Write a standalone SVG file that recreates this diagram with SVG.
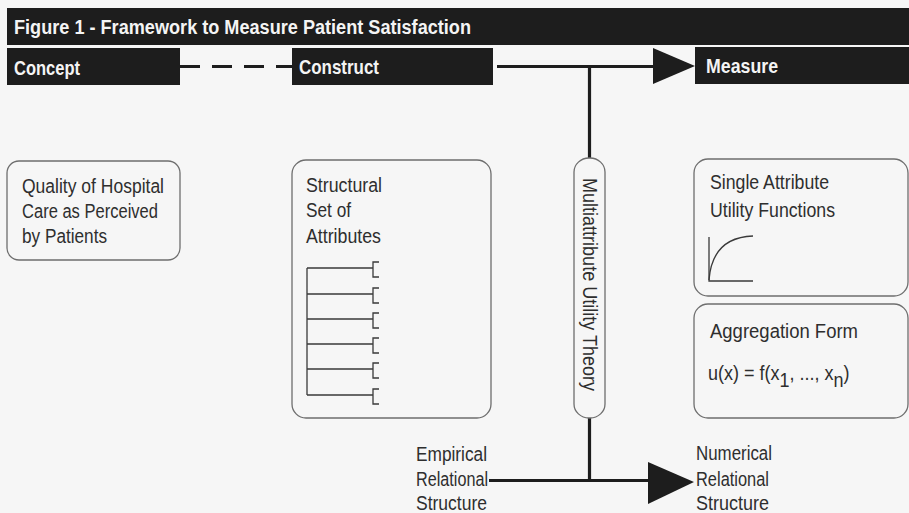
<svg xmlns="http://www.w3.org/2000/svg" width="909" height="513" viewBox="0 0 909 513">
  <style>
    .bar { fill: #1d1d1d; }
    .bartxt { font-family: "Liberation Sans", Arial, sans-serif; font-weight: bold; fill: #f4f4f4; }
    .txt { font-family: "Liberation Sans", Arial, sans-serif; font-size: 20px; fill: #2e2e2e; }
    .box { fill: #f6f6f6; stroke: #6e6e6e; stroke-width: 1.3; }
    .thin { fill: none; stroke: #3a3a3a; stroke-width: 1.3; }
    .link { fill: none; stroke: #1d1d1d; stroke-width: 3.2; }
    .head { fill: #1d1d1d; }
  </style>

  <rect width="909" height="513" fill="#f6f6f6"/>

  <!-- title bar -->
  <g id="title">
    <rect class="bar" x="7" y="8" width="902" height="37"/>
    <text class="bartxt" x="14" y="34" font-size="20" textLength="457" lengthAdjust="spacingAndGlyphs">Figure 1 - Framework to Measure Patient Satisfaction</text>
  </g>

  <!-- connectors -->
  <g id="connectors">
    <line class="link" x1="180" y1="66.5" x2="292" y2="66.5" stroke-dasharray="20 12"/>
    <line class="link" x1="497" y1="66.5" x2="655" y2="66.5"/>
    <polygon class="head" points="653,48 653,84 695,66"/>
    <line class="link" x1="589.5" y1="65" x2="589.5" y2="158" stroke-width="3.6"/>
    <line class="link" x1="589.5" y1="418" x2="589.5" y2="481" stroke-width="3.6"/>
    <line class="link" x1="489" y1="480.5" x2="650" y2="480.5"/>
    <polygon class="head" points="648,462 648,504 694,482"/>
  </g>

  <!-- header nodes -->
  <g id="concept">
    <rect class="bar" x="7" y="48" width="173" height="37"/>
    <text class="bartxt" x="14" y="75" font-size="21" textLength="66" lengthAdjust="spacingAndGlyphs">Concept</text>
  </g>
  <g id="construct">
    <rect class="bar" x="292" y="48" width="201" height="37"/>
    <text class="bartxt" x="299" y="74" font-size="21" textLength="80" lengthAdjust="spacingAndGlyphs">Construct</text>
  </g>
  <g id="measure">
    <rect class="bar" x="695" y="47" width="214" height="37"/>
    <text class="bartxt" x="706" y="73" font-size="21" textLength="72" lengthAdjust="spacingAndGlyphs">Measure</text>
  </g>

  <!-- concept box -->
  <g id="quality">
    <rect class="box" x="7" y="161" width="173" height="99" rx="12"/>
    <text class="txt" x="22" y="193" textLength="142" lengthAdjust="spacingAndGlyphs">Quality of Hospital</text>
    <text class="txt" x="22" y="218" textLength="136" lengthAdjust="spacingAndGlyphs">Care as Perceived</text>
    <text class="txt" x="22" y="243" textLength="85" lengthAdjust="spacingAndGlyphs">by Patients</text>
  </g>

  <!-- attribute tree box -->
  <g id="attributes">
    <rect class="box" x="292" y="160" width="199" height="258" rx="14"/>
    <text class="txt" x="306" y="192" textLength="76" lengthAdjust="spacingAndGlyphs">Structural</text>
    <text class="txt" x="306" y="217" textLength="45" lengthAdjust="spacingAndGlyphs">Set of</text>
    <text class="txt" x="306" y="243" textLength="75" lengthAdjust="spacingAndGlyphs">Attributes</text>
    <path class="thin" d="M307,268 V395
      M307,268 H373 M307,294 H373 M307,319 H373 M307,344 H373 M307,369 H373 M307,395 H373
      M379,262 H373 V277 H379
      M379,288 H373 V303 H379
      M379,313 H373 V328 H379
      M379,338 H373 V353 H379
      M379,363 H373 V378 H379
      M379,389 H373 V404 H379"/>
  </g>

  <!-- theory pill -->
  <g id="theory">
    <rect class="box" x="574" y="158" width="31" height="260" rx="15" ry="14"/>
    <text class="txt" transform="translate(583,178) rotate(90)" x="0" y="0" textLength="213" lengthAdjust="spacingAndGlyphs">Multiattribute Utility Theory</text>
  </g>

  <!-- measure boxes -->
  <g id="single-attribute">
    <rect class="box" x="694" y="159" width="214" height="137" rx="14"/>
    <text class="txt" x="710" y="189" textLength="119" lengthAdjust="spacingAndGlyphs">Single Attribute</text>
    <text class="txt" x="710" y="217" textLength="125" lengthAdjust="spacingAndGlyphs">Utility Functions</text>
    <path class="thin" stroke="#555" d="M709,237 V281 H753"/>
    <path class="thin" stroke="#555" d="M709,280 C711,254 723,237 753,236"/>
  </g>
  <g id="aggregation">
    <rect class="box" x="694" y="304" width="214" height="114" rx="14"/>
    <text class="txt" x="710" y="338" textLength="148" lengthAdjust="spacingAndGlyphs">Aggregation Form</text>
    <!-- formula with lowered subscripts, narrowed to the box -->
    <text class="txt" transform="translate(708,380) scale(0.9,1)" x="0" y="0">u(x) = f(x<tspan dy="7">1</tspan><tspan dy="-7">, ..., x</tspan><tspan dy="7">n</tspan><tspan dy="-7">)</tspan></text>
  </g>

  <!-- relational structures -->
  <g id="empirical">
    <text class="txt" x="416" y="461" textLength="71" lengthAdjust="spacingAndGlyphs">Empirical</text>
    <text class="txt" x="416" y="486" textLength="72" lengthAdjust="spacingAndGlyphs">Relational</text>
    <text class="txt" x="416" y="510" textLength="71" lengthAdjust="spacingAndGlyphs">Structure</text>
  </g>
  <g id="numerical">
    <text class="txt" x="696" y="460" textLength="76" lengthAdjust="spacingAndGlyphs">Numerical</text>
    <text class="txt" x="696" y="486" textLength="73" lengthAdjust="spacingAndGlyphs">Relational</text>
    <text class="txt" x="696" y="510" textLength="73" lengthAdjust="spacingAndGlyphs">Structure</text>
  </g>
</svg>
